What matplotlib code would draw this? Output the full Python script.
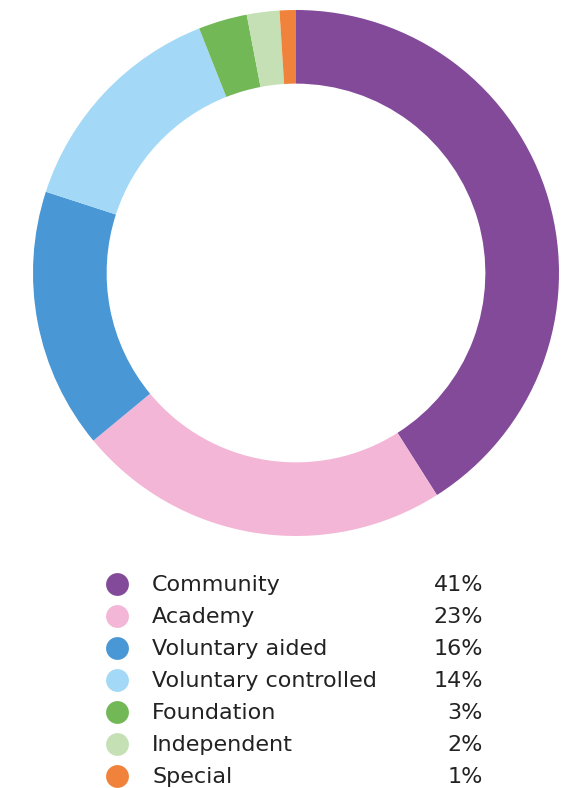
import matplotlib
matplotlib.use("Agg")
import matplotlib.pyplot as plt

# data
categories = ["Community", "Academy", "Voluntary aided", "Voluntary controlled",
              "Foundation", "Independent", "Special"]
shares = [41, 23, 16, 14, 3, 2, 1]
colors = ["#834a99", "#f4b6d6", "#4a97d5", "#a3d9f7", "#72b857", "#c5e0b5", "#f0823c"]

W, H = 573, 788
fig = plt.figure(figsize=(W / 100, H / 100), dpi=100)

# donut: centre (296, 273) px, radius 263 px
cx, cy, r = 296, 273, 263
ax = fig.add_axes([(cx - r) / W, (H - cy - r) / H, 2 * r / W, 2 * r / H])
ax.pie(shares, colors=colors, startangle=90, counterclock=False,
       radius=1, wedgeprops=dict(width=0.28, linewidth=0, antialiased=True))
ax.set_xlim(-1, 1)
ax.set_ylim(-1, 1)
ax.set_aspect("equal")
ax.axis("off")

# legend drawn in pixel coordinates
lax = fig.add_axes([0, 0, 1, 1])
lax.set_xlim(0, W)
lax.set_ylim(H, 0)
lax.axis("off")
y0, dy = 585, 32
for i, (cat, val, col) in enumerate(zip(categories, shares, colors)):
    y = y0 + i * dy
    lax.scatter([117], [y - 1], s=270, color=col, linewidths=0)
    lax.text(152, y, cat, fontsize=16, color="#222222", va="center", ha="left",
             family="DejaVu Sans")
    lax.text(483, y, f"{val}%", fontsize=16, color="#222222", va="center",
             ha="right", family="DejaVu Sans")

fig.savefig("out.png", dpi=100, facecolor="white")
